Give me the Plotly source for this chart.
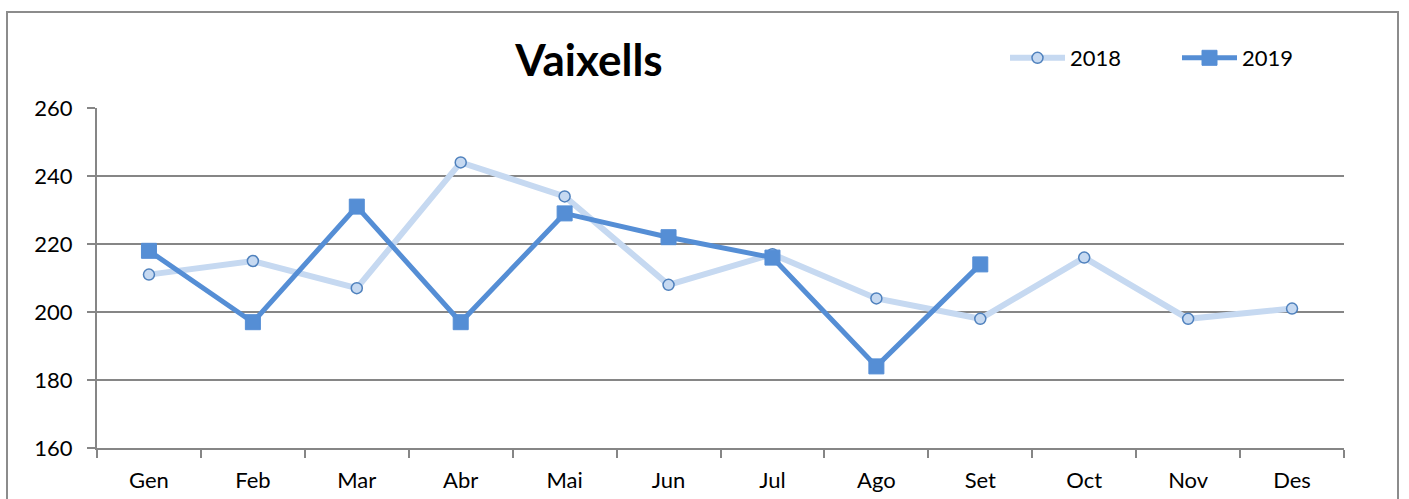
import plotly.graph_objects as go

months = ["Gen", "Feb", "Mar", "Abr", "Mai", "Jun", "Jul", "Ago", "Set", "Oct", "Nov", "Des"]
v2018 = [211, 215, 207, 244, 234, 208, 217, 204, 198, 216, 198, 201]
v2019 = [218, 197, 231, 197, 229, 222, 216, 184, 214]
y_ticks = [160, 180, 200, 220, 240, 260]

W, H = 1409, 499
L, R, T, B = 97, 1344, 108, 448

fig = go.Figure()
fig.add_trace(go.Scatter(
    x=months, y=v2018, name="2018", mode="lines+markers",
    line=dict(color="#c6d9f1", width=6),
    marker=dict(symbol="circle", size=11, color="#c6d9f1",
                line=dict(color="#4f81bd", width=1.5)),
))
fig.add_trace(go.Scatter(
    x=months[:len(v2019)], y=v2019, name="2019", mode="lines+markers",
    line=dict(color="#558ed5", width=5),
    marker=dict(symbol="square", size=15, color="#558ed5",
                line=dict(color="#558ed5", width=1)),
))

def px_x(p):
    return (p - L) / (R - L)

def px_y(p):
    return (B - p) / (B - T)

fig.add_shape(type="rect", xref="paper", yref="paper",
              x0=px_x(7), x1=px_x(1398), y0=px_y(530), y1=px_y(12),
              line=dict(color="#8c8c8c", width=2), fillcolor="rgba(0,0,0,0)", layer="below")

fig.update_layout(
    width=W, height=H, autosize=False,
    margin=dict(l=L, r=W - R, t=T, b=H - B, autoexpand=False),
    paper_bgcolor="white", plot_bgcolor="white",
    font=dict(family="Lato, Carlito, Calibri, sans-serif", size=22, color="#000000"),
    title=dict(text="<b>Vaixells</b>", x=589 / W, xanchor="center",
               y=1 - 61 / H, yanchor="middle", yref="container",
               font=dict(size=44, color="#000000")),
    showlegend=True,
    legend=dict(orientation="h", xref="container", yref="container",
                x=1005 / W, xanchor="left",
                y=1 - 58 / H, yanchor="middle", bgcolor="rgba(0,0,0,0)",
                entrywidth=102, entrywidthmode="pixels",
                itemwidth=55, font=dict(size=22)),
    xaxis=dict(
        type="category", range=[-0.5, 11.5],
        showgrid=False, showline=True, linecolor="#868686", linewidth=2,
        ticks="outside", tickson="boundaries", ticklen=8, tickwidth=1.5,
        tickcolor="#868686", ticklabelstandoff=12, fixedrange=True,
    ),
    yaxis=dict(
        range=[160, 260], tickvals=y_ticks,
        showgrid=True, gridcolor="#868686", gridwidth=1.5,
        showline=True, linecolor="#868686", linewidth=2,
        ticks="outside", ticklen=8, tickwidth=1.5, tickcolor="#868686",
        zeroline=False, ticklabelstandoff=10, fixedrange=True,
    ),
)

fig.write_html("out.html", config={"displayModeBar": False},
               post_script="document.body.style.margin='0';document.body.style.overflow='hidden';")
